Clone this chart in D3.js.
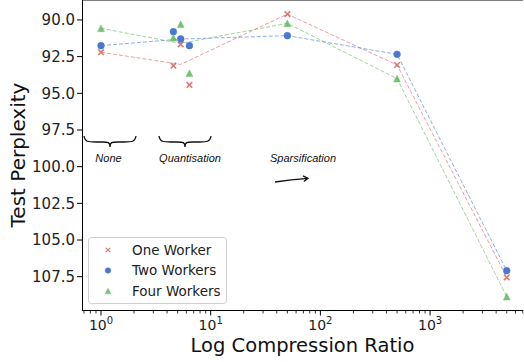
<!DOCTYPE html>
<html>
<head>
<meta charset="utf-8">
<script src="https://cdn.jsdelivr.net/npm/d3@7"></script>
<style>
  body { margin: 0; background: #fff; }
  svg { display: block; font-family: "DejaVu Sans", sans-serif; }
</style>
</head>
<body>
<svg id="chart" width="524" height="362"></svg>
<script>
// compression ratios (None, three quantisation settings, three sparsification settings)
const ratios = [1, 4.57, 5.33, 6.4, 50, 500, 5000];
const oneWorker = [92.2, 93.12, 91.66, 94.43, 89.6, 93.07, 107.54];
const twoWorkers = [91.75, 90.8, 91.3, 91.75, 91.07, 92.34, 107.09];
const fourWorkers = [90.57, 91.21, 90.29, 93.63, 90.23, 94.0, 108.86];

// the dashed lines go through one point per method
const lineRatios = [1, 5.33, 50, 500, 5000];
const oneLine = [92.2, 93.03, 89.6, 93.07, 107.54];
const twoLine = [91.75, 91.3, 91.07, 92.34, 107.09];
const fourLine = [90.57, 91.6, 90.23, 94.0, 108.86];

const yTicks = [90.0, 92.5, 95.0, 97.5, 100.0, 102.5, 105.0, 107.5];
const xTicks = [1, 10, 100, 1000];

const series = [
  { name: 'One Worker', values: oneWorker, line: oneLine, color: '#d65f5f', shape: 'x' },
  { name: 'Two Workers', values: twoWorkers, line: twoLine, color: '#4878d0', shape: 'circle' },
  { name: 'Four Workers', values: fourWorkers, line: fourLine, color: '#5fb85a', shape: 'triangle' },
];

const plotLeft = 82, plotRight = 523, plotTop = 0, plotBottom = 310;

const svg = d3.select('#chart');

const x = d3.scaleLog().domain([0.6711, 7031]).range([plotLeft, plotRight]);
const y = d3.scaleLinear().domain([88.64, 109.77]).range([plotTop, plotBottom]);

// marker paths
function markerPath(shape, r) {
  if (shape === 'x') return `M${-r},${-r}L${r},${r}M${-r},${r}L${r},${-r}`;
  if (shape === 'triangle') return `M0,${-r}L${r},${r}L${-r},${r}Z`;
  return d3.symbol(d3.symbolCircle, Math.PI * r * r)();
}

// dashed connecting lines
const lineGen = d3.line()
  .x((d, i) => x(lineRatios[i]))
  .y((d) => y(d));

svg.append('g')
  .selectAll('path')
  .data(series)
  .enter()
  .append('path')
  .attr('d', (d) => lineGen(d.line))
  .attr('fill', 'none')
  .attr('stroke', (d) => d.color)
  .attr('stroke-width', 1)
  .attr('stroke-opacity', 0.6)
  .attr('stroke-dasharray', '4,2');

// points
series.forEach((s) => {
  svg.append('g')
    .selectAll('path')
    .data(s.values)
    .enter()
    .append('path')
    .attr('transform', (d, i) => `translate(${x(ratios[i])},${y(d)})`)
    .attr('d', markerPath(s.shape, s.shape === 'x' ? 2.8 : 3.4))
    .attr('fill', s.shape === 'x' ? 'none' : s.color)
    .attr('stroke', s.color)
    .attr('stroke-width', s.shape === 'x' ? 1.6 : 0.5)
    .attr('opacity', s.shape === 'circle' ? 1 : 0.85);
});

// spines
svg.append('line').attr('x1', plotLeft + 0.5).attr('x2', plotLeft + 0.5).attr('y1', plotTop).attr('y2', plotBottom + 1)
  .attr('stroke', '#000').attr('stroke-width', 1);
svg.append('line').attr('x1', plotLeft).attr('x2', plotRight).attr('y1', plotBottom + 0.5).attr('y2', plotBottom + 0.5)
  .attr('stroke', '#000').attr('stroke-width', 1);
svg.append('line').attr('x1', plotLeft).attr('x2', plotRight).attr('y1', 0).attr('y2', 0)
  .attr('stroke', '#000').attr('stroke-width', 1);

// y axis
const yAxis = svg.append('g');
yAxis.selectAll('line')
  .data(yTicks)
  .enter()
  .append('line')
  .attr('x1', plotLeft - 5).attr('x2', plotLeft)
  .attr('y1', (d) => y(d)).attr('y2', (d) => y(d))
  .attr('stroke', '#000');
yAxis.selectAll('text')
  .data(yTicks)
  .enter()
  .append('text')
  .attr('x', plotLeft - 7)
  .attr('y', (d) => y(d))
  .attr('dy', '0.35em')
  .attr('text-anchor', 'end')
  .attr('font-size', 15)
  .attr('fill', '#222')
  .text((d) => d.toFixed(1));

// x axis: major + minor log ticks
const minorTicks = x.ticks().filter((t) => xTicks.indexOf(t) < 0);
svg.append('g')
  .selectAll('line')
  .data(minorTicks)
  .enter()
  .append('line')
  .attr('x1', (d) => x(d)).attr('x2', (d) => x(d))
  .attr('y1', plotBottom).attr('y2', plotBottom + 3.5)
  .attr('stroke', '#000').attr('stroke-width', 0.8);

const xAxis = svg.append('g');
xAxis.selectAll('line')
  .data(xTicks)
  .enter()
  .append('line')
  .attr('x1', (d) => x(d)).attr('x2', (d) => x(d))
  .attr('y1', plotBottom).attr('y2', plotBottom + 5.5)
  .attr('stroke', '#000');
const xLabels = xAxis.selectAll('text')
  .data(xTicks)
  .enter()
  .append('text')
  .attr('x', (d) => x(d))
  .attr('y', plotBottom + 20)
  .attr('text-anchor', 'middle')
  .attr('font-size', 14)
  .attr('fill', '#222');
xLabels.append('tspan').text('10');
xLabels.append('tspan')
  .attr('font-size', 10)
  .attr('dy', -6)
  .text((d) => Math.round(Math.log10(d)));

// axis titles
svg.append('text')
  .attr('x', (plotLeft + plotRight) / 2)
  .attr('y', 352)
  .attr('text-anchor', 'middle')
  .attr('font-size', 19.5)
  .attr('fill', '#111')
  .text('Log Compression Ratio');

svg.append('text')
  .attr('transform', `translate(25,${(plotTop + plotBottom) / 2}) rotate(-90)`)
  .attr('text-anchor', 'middle')
  .attr('font-size', 20)
  .attr('fill', '#111')
  .text('Test Perplexity');

// annotations
const notes = svg.append('g').attr('font-family', '"Liberation Sans", Arial, sans-serif')
  .attr('font-style', 'italic').attr('font-size', 11).attr('fill', '#111');

function brace(x0, x1, y0) {
  const mid = (x0 + x1) / 2, ym = y0 + 6, yt = y0 + 11;
  return `M${x0},${y0}C${x0 + 1},${ym} ${x0 + 4},${ym} ${x0 + 12},${ym}` +
    `L${mid - 8},${ym}C${mid - 2},${ym} ${mid},${ym} ${mid},${yt}` +
    `C${mid},${ym} ${mid + 2},${ym} ${mid + 8},${ym}` +
    `L${x1 - 12},${ym}C${x1 - 4},${ym} ${x1 - 1},${ym} ${x1},${y0}`;
}
[[84, 136], [159, 211]].forEach((b) => {
  svg.append('path').attr('d', brace(b[0], b[1], 136))
    .attr('fill', 'none').attr('stroke', '#111').attr('stroke-width', 1.3);
});
notes.append('text').attr('x', 108.5).attr('y', 162).attr('text-anchor', 'middle').text('None');
notes.append('text').attr('x', 190).attr('y', 162).attr('text-anchor', 'middle').text('Quantisation');
notes.append('text').attr('x', 303).attr('y', 162).attr('text-anchor', 'middle').text('Sparsification');

svg.append('path')
  .attr('d', 'M275,182Q291,179.3 308,178.3M303,175.8L308,178.3L303.8,181.6')
  .attr('fill', 'none').attr('stroke', '#111').attr('stroke-width', 1.3);

// legend
const legend = svg.append('g');
legend.append('rect')
  .attr('x', 88.5).attr('y', 237.5).attr('width', 138).attr('height', 66)
  .attr('rx', 3)
  .attr('fill', '#fff').attr('fill-opacity', 0.8)
  .attr('stroke', '#d0d0d0');
const items = legend.selectAll('g.item')
  .data(series)
  .enter()
  .append('g')
  .attr('class', 'item')
  .attr('transform', (d, i) => `translate(108,${250 + i * 20.5})`);
items.append('path')
  .attr('d', (d) => markerPath(d.shape, d.shape === 'x' ? 2.2 : 2.8))
  .attr('fill', (d) => d.shape === 'x' ? 'none' : d.color)
  .attr('stroke', (d) => d.color)
  .attr('stroke-width', (d) => d.shape === 'x' ? 1.2 : 0.5)
  .attr('opacity', (d) => d.shape === 'circle' ? 1 : 0.85);
items.append('text')
  .attr('x', 24)
  .attr('dy', '0.35em')
  .attr('font-size', 13.5)
  .attr('fill', '#222')
  .text((d) => d.name);
</script>
</body>
</html>
